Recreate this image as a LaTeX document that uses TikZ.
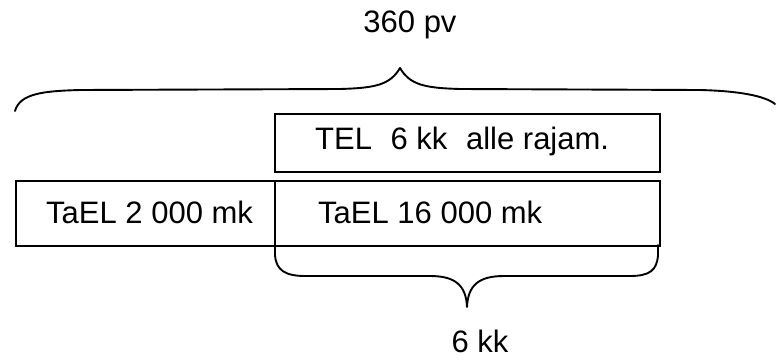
\documentclass[tikz,border=0pt]{standalone}
\usepackage{fontspec}
\setmainfont{Liberation Sans}
\begin{document}
\begin{tikzpicture}[x=1pt,y=-1pt,
  box/.style={draw,line width=1.9pt,rectangle,inner sep=0pt,anchor=north west},
  txt/.style={font=\fontsize{31}{36}\selectfont,inner sep=0pt},
  brace/.style={draw,line width=1.9pt,line cap=round,line join=round}]
\useasboundingbox (0,0) rectangle (776,359);
% boxes
\node[box,minimum width=385pt,minimum height=58pt] (tel) at (274,113) {};
\node[box,minimum width=259pt,minimum height=65pt] (tael2) at (15,180) {};
\node[box,minimum width=385pt,minimum height=65pt] (tael16) at (274,180) {};
% texts
\node[txt,anchor=west] (teltxt) at (315,141) {TEL\hspace{0.6em}6 kk\hspace{0.6em}alle rajam.};
\node[txt,anchor=west] (t2txt) at (46,212) {TaEL 2 000 mk};
\node[txt,anchor=west] (t16txt) at (318,212) {TaEL 16 000 mk};
\node[txt,anchor=base] (top) at (410,32) {360 pv};
\node[txt,anchor=base] (bot) at (480,352) {6 kk};
% top brace
\coordinate (tl) at (15,111);
\coordinate (tt) at (400,68);
\coordinate (tr) at (775,104);
\draw[brace] (tl) .. controls (20,93) and (45,91) .. (80,90)
  -- (340,89) .. controls (375,88) and (390,85) .. (tt)
  .. controls (410,85) and (425,88) .. (460,89)
  -- (700,90) .. controls (740,91) and (765,96) .. (tr);
% bottom brace
\coordinate (bl) at (275,245);
\coordinate (bt) at (467,307);
\coordinate (br) at (658,245);
\draw[brace] (bl) -- (275,255) .. controls (276,270) and (285,276) .. (305,276)
  -- (430,276) .. controls (455,276) and (466,285) .. (bt)
  .. controls (468,285) and (479,276) .. (504,276)
  -- (630,276) .. controls (650,276) and (657,270) .. (658,255) -- (br);
\end{tikzpicture}
\end{document}
